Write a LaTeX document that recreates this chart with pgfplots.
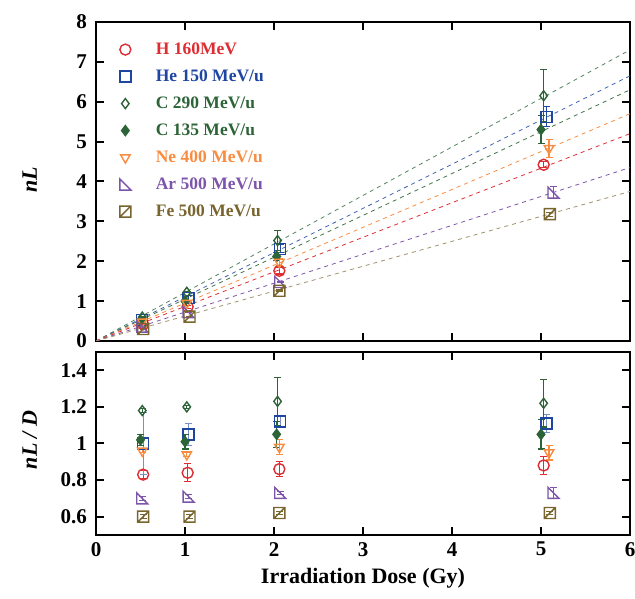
\documentclass[border=0pt]{standalone}
\usepackage{pgfplots}
\pgfplotsset{compat=1.18}
\usepackage{fontspec}
\setmainfont{Liberation Serif}

\definecolor{hred}{RGB}{222,45,50}
\definecolor{heblue}{RGB}{30,70,160}
\definecolor{cgreen}{RGB}{45,100,55}
\definecolor{neorange}{RGB}{248,140,65}
\definecolor{arpurple}{RGB}{125,85,170}
\definecolor{feolive}{RGB}{120,100,45}

\pgfdeclareplotmark{artri}{%
  \pgfpathmoveto{\pgfqpoint{-\pgfplotmarksize}{\pgfplotmarksize}}%
  \pgfpathlineto{\pgfqpoint{-\pgfplotmarksize}{-\pgfplotmarksize}}%
  \pgfpathlineto{\pgfqpoint{\pgfplotmarksize}{-\pgfplotmarksize}}%
  \pgfpathclose\pgfusepathqstroke}
\pgfdeclareplotmark{feslash}{%
  \pgfpathrectangle{\pgfqpoint{-\pgfplotmarksize}{-\pgfplotmarksize}}{\pgfqpoint{2\pgfplotmarksize}{2\pgfplotmarksize}}%
  \pgfpathmoveto{\pgfqpoint{-\pgfplotmarksize}{-\pgfplotmarksize}}%
  \pgfpathlineto{\pgfqpoint{\pgfplotmarksize}{\pgfplotmarksize}}%
  \pgfusepathqstroke}

\pgfplotsset{
  every axis/.append style={
    scale only axis, width=534pt,
    xmin=0, xmax=6,
    line width=1.8pt,
    axis line style={line width=2pt},
    tick align=inside, major tick length=8pt,
    every tick/.style={black, line width=2pt},
    tick label style={font=\fontsize{21}{24}\selectfont\bfseries},
    yticklabel style={xshift=-5pt},
    xticklabel style={yshift=-3pt},
    label style={font=\fontsize{22}{25}\selectfont\bfseries},
    /pgf/number format/assume math mode=true,
    minor tick num=0,
  },
  pts/.style={only marks, color=#1, line width=1.4pt, mark size=5.5pt,
    error bars/y dir=both, error bars/y explicit,
    error bars/error bar style={line width=1.1pt, color=#1},
    error bars/error mark options={rotate=90, mark size=3.5pt, line width=1.1pt, color=#1}},
  fit/.style={dashed, line width=0.8pt, dash pattern=on 4pt off 4pt, forget plot},
}

\begin{document}
\begin{tikzpicture}
\useasboundingbox (0pt,0pt) rectangle (635pt,599pt);

\begin{axis}[at={(96pt,258pt)}, anchor=south west, height=319pt,
  ymin=0, ymax=8, ytick={0,1,...,8}, xtick={0,1,...,6}, xticklabels={},
  ylabel={\itshape nL},
  ylabel style={at={(axis description cs:-0.124,0.505)}, anchor=center},
  legend style={draw=none, fill=none, at={(axis description cs:0.043,0.943)},
    anchor=north west, inner sep=0pt, row sep=10pt, column sep=23pt,
    font=\fontsize{17.5}{20}\selectfont\bfseries,
    nodes={text height=12pt, text depth=3pt, inner ysep=1pt}},
  legend cell align=left]

\addplot[fit, draw=cgreen!80] coordinates {(0,0) (6,7.3)};
\addplot[fit, draw=heblue!85] coordinates {(0,0) (6,6.65)};
\addplot[fit, draw=cgreen!90] coordinates {(0,0) (6,6.3)};
\addplot[fit, draw=neorange] coordinates {(0,0) (6,5.7)};
\addplot[fit, draw=hred] coordinates {(0,0) (6,5.2)};
\addplot[fit, draw=arpurple] coordinates {(0,0) (6,4.35)};
\addplot[fit, draw=feolive!70] coordinates {(0,0) (6,3.75)};

\addplot[pts=hred, mark=o] coordinates {
  (0.53,0.42) +- (0,0.02) (1.03,0.86) +- (0,0.04) (2.06,1.76) +- (0,0.08) (5.03,4.42) +- (0,0.08)};
\addlegendentry{\textcolor{hred}{H 160MeV}}
\addplot[pts=heblue, mark=square] coordinates {
  (0.52,0.52) +- (0,0.09) (1.04,1.08) +- (0,0.06) (2.07,2.31) +- (0,0.1) (5.06,5.62) +- (0,0.25)};
\addlegendentry{\textcolor{heblue}{He 150 MeV/u}}
\addplot[pts=cgreen, mark=diamond, mark size=5pt] coordinates {
  (0.52,0.60) +- (0,0.01) (1.02,1.22) +- (0,0.01) (2.04,2.52) +- (0,0.25) (5.03,6.15) +- (0,0.65)};
\addlegendentry{\textcolor{cgreen}{C 290 MeV/u}}
\addplot[pts=cgreen, mark=diamond*, mark size=5pt] coordinates {
  (0.50,0.52) +- (0,0.02) (1.00,1.00) +- (0,0.04) (2.03,2.12) +- (0,0.1) (5.00,5.30) +- (0,0.35)};
\addlegendentry{\textcolor{cgreen}{C 135 MeV/u}}
\addplot[pts=neorange, mark=triangle, mark options={rotate=180}] coordinates {
  (0.52,0.48) +- (0,0.01) (1.02,0.95) +- (0,0.01) (2.06,1.98) +- (0,0.08) (5.09,4.83) +- (0,0.22)};
\addlegendentry{\textcolor{neorange}{Ne 400 MeV/u}}
\addplot[pts=arpurple, mark=artri] coordinates {
  (0.52,0.36) +- (0,0.01) (1.04,0.72) +- (0,0.01) (2.07,1.48) +- (0,0.02) (5.14,3.72) +- (0,0.15)};
\addlegendentry{\textcolor{arpurple}{Ar 500 MeV/u}}
\addplot[pts=feolive, mark=feslash] coordinates {
  (0.53,0.30) +- (0,0.01) (1.05,0.61) +- (0,0.01) (2.06,1.26) +- (0,0.02) (5.10,3.18) +- (0,0.05)};
\addlegendentry{\textcolor{feolive}{Fe 500 MeV/u}}
\end{axis}

\begin{axis}[at={(96pt,64pt)}, anchor=south west, height=183pt,
  ymin=0.5, ymax=1.5, ytick={0.6,0.8,1,1.2,1.4}, xtick={0,1,...,6},
  yticklabels={0.6,0.8,1,1.2,1.4},
  ylabel={\itshape nL / D},
  ylabel style={at={(axis description cs:-0.124,0.52)}, anchor=center},
  xlabel={Irradiation Dose (Gy)},
  xlabel style={at={(axis description cs:0.5,-0.235)}, anchor=center}]

\addplot[pts=hred, mark=o] coordinates {
  (0.53,0.83) +- (0,0.02) (1.03,0.84) +- (0,0.05) (2.06,0.86) +- (0,0.04) (5.03,0.88) +- (0,0.05)};
\addplot[pts=heblue!60, mark options={heblue}, mark=square] coordinates {
  (0.53,1.00) +- (0,0.17) (1.04,1.05) +- (0,0.06) (2.07,1.12) +- (0,0.03) (5.06,1.11) +- (0,0.05)};
\addplot[pts=cgreen, mark=diamond, mark size=5pt] coordinates {
  (0.52,1.18) +- (0,0.01) (1.02,1.20) +- (0,0.01) (2.04,1.23) +- (0,0.13) (5.03,1.22) +- (0,0.13)};
\addplot[pts=cgreen, mark=diamond*, mark size=5pt] coordinates {
  (0.50,1.02) +- (0,0.03) (1.00,1.01) +- (0,0.04) (2.03,1.05) +- (0,0.07) (5.00,1.05) +- (0,0.08)};
\addplot[pts=neorange, mark=triangle, mark options={rotate=180}] coordinates {
  (0.52,0.96) +- (0,0.01) (1.02,0.94) +- (0,0.01) (2.06,0.98) +- (0,0.04) (5.09,0.95) +- (0,0.04)};
\addplot[pts=arpurple, mark=artri] coordinates {
  (0.52,0.70) +- (0,0.01) (1.04,0.71) +- (0,0.01) (2.07,0.73) +- (0,0.01) (5.14,0.73) +- (0,0.03)};
\addplot[pts=feolive, mark=feslash] coordinates {
  (0.53,0.60) +- (0,0.01) (1.05,0.60) +- (0,0.01) (2.06,0.62) +- (0,0.01) (5.10,0.62) +- (0,0.01)};
\end{axis}
\end{tikzpicture}
\end{document}
